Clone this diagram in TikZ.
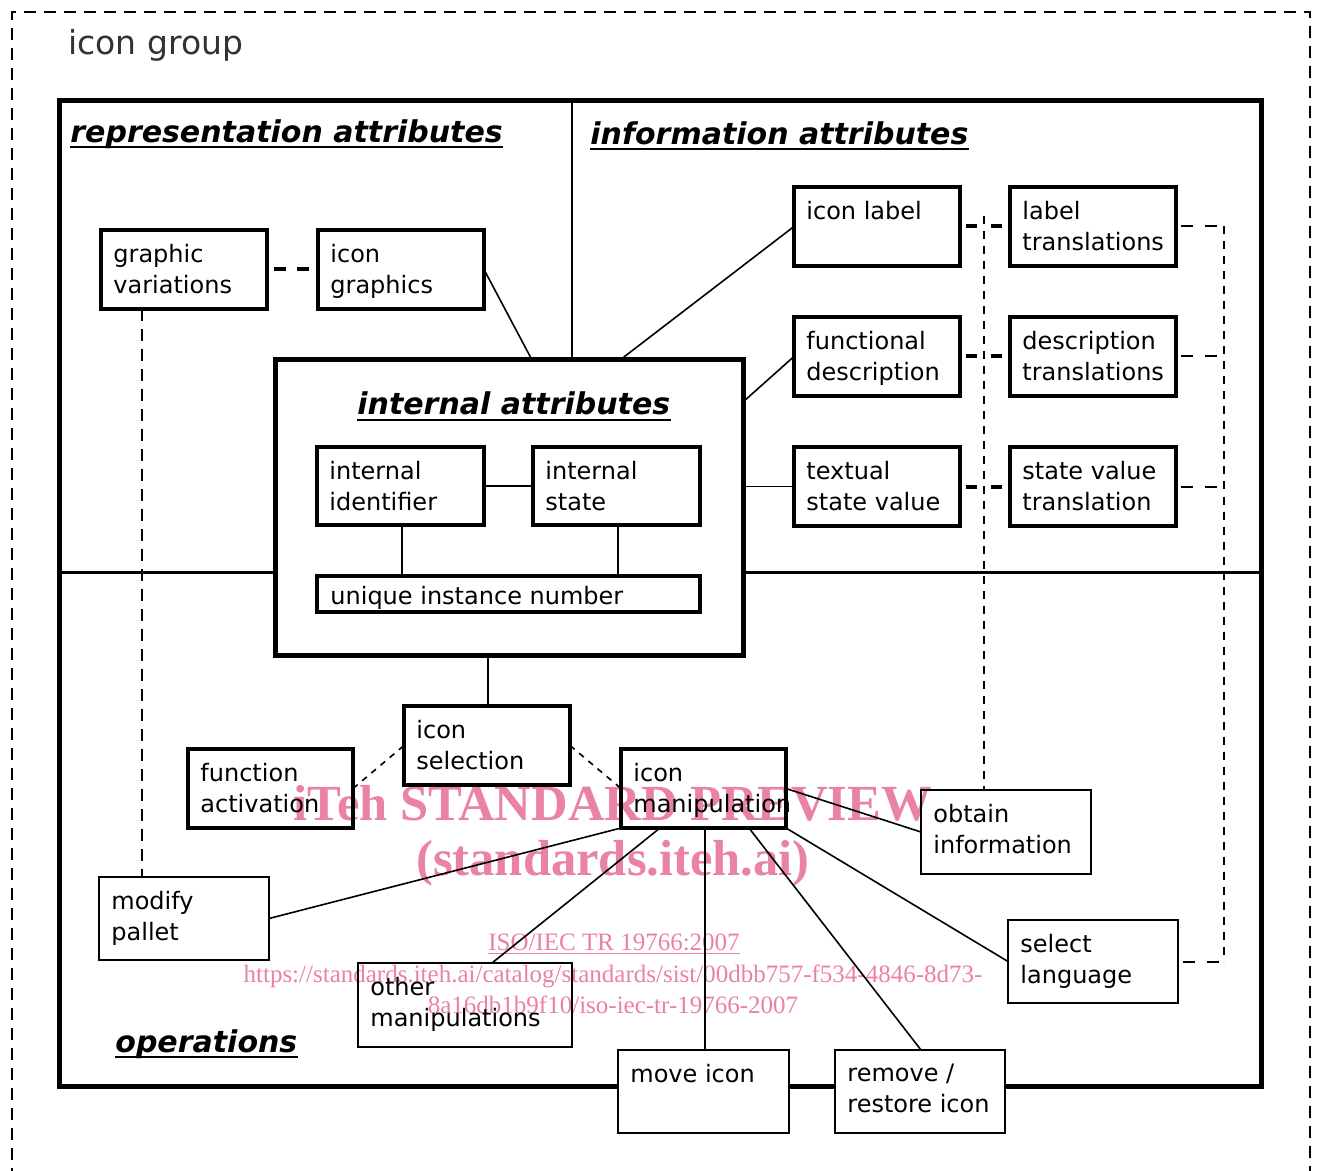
\documentclass[tikz,border=0pt]{standalone}
\usepackage{fontspec}
\setmainfont{DejaVu Sans}
\newfontfamily\wmfont{Liberation Serif}
\definecolor{wmc}{RGB}{234,130,162}
\newcommand\bodyfont{\fontsize{12pt}{15.5pt}\selectfont}
\newcommand\mkbox[7]{\node[#1, minimum width={(#5-#3)*0.5pt}, minimum height={(#6-#4)*0.5pt}, label={[lab]north west:{#7}}] (#2) at ({(#3+#5)/2},{(#4+#6)/2}) {};}
\begin{document}
\begin{tikzpicture}[x=0.5pt,y=-0.5pt,
  lab/.style={anchor=north west, align=left, inner xsep=6pt, inner ysep=7pt, font=\bodyfont},
  thickbox/.style={draw, line width=2pt, fill=white, inner sep=0pt, outer sep=0pt},
  thinbox/.style={draw, line width=1pt, fill=white, inner sep=0pt, outer sep=0pt},
  bigbox/.style={draw, line width=2.5pt, fill=white, inner sep=0pt, outer sep=0pt},
  conn/.style={line width=0.8pt},
  hd/.style={font=\fontsize{15pt}{18pt}\selectfont\bfseries\itshape, inner sep=0pt, anchor=base west},
  uline/.style={line width=1pt},
  outerdash/.style={line width=1pt, dash pattern=on 6pt off 4pt},
  pairdash/.style={line width=2pt, dash pattern=on 5.5pt off 7pt, dash phase=9.5pt},
  gvdash/.style={line width=2pt, dash pattern=on 6.2pt off 5.4pt, dash phase=8.3pt},
  stubdash/.style={line width=1pt, dash pattern=on 6pt off 6pt, dash phase=9.5pt},
  vdash/.style={line width=1pt, dash pattern=on 4pt off 3.5pt},
  ldash/.style={line width=1.4pt, dash pattern=on 6pt off 4pt},
  sdash/.style={line width=0.8pt, dash pattern=on 3pt off 3pt},
  wm/.style={text=wmc, inner sep=0pt, anchor=base}]
\useasboundingbox (0,0) rectangle (1317,1171);
\fill[white] (0,0) rectangle (1317,1171);

% outer dashed group frame
\draw[outerdash] (12,1180) -- (12,12) -- (1310,12) -- (1310,1180);
\node[anchor=base west, inner sep=0pt, text=black!80, font=\fontsize{16.5pt}{20pt}\selectfont] (title) at (68,55) {icon group};

% main box
\node[bigbox, minimum width={1202*0.5pt}, minimum height={985*0.5pt}] (main) at (660,593.5) {};
% internal attributes box
\node[bigbox, minimum width={468*0.5pt}, minimum height={295*0.5pt}] (ia) at (509,507.5) {};

% region dividers
\draw[line width=1pt] (main.north -| 572,0) -- (ia.north -| 572,0);
\draw[line width=1.5pt] (main.west |- 0,572) -- (ia.west |- 0,572);
\draw[line width=1.5pt] (ia.east |- 0,572) -- (main.east |- 0,572);

% headings
\node[hd] (h1) at (70,143) {representation attributes};
\draw[uline] ([yshift=-2pt]h1.base west) -- ([yshift=-2pt]h1.base east);
\node[hd] (h2) at (590,145) {information attributes};
\draw[uline] ([yshift=-2pt]h2.base west) -- ([yshift=-2pt]h2.base east);
\node[hd] (h3) at (357,415) {internal attributes};
\draw[uline] ([yshift=-2.5pt]h3.base west) -- ([yshift=-2.5pt]h3.base east);
\node[hd] (h4) at (115,1052) {operations};
\draw[uline] ([yshift=-2.5pt]h4.base west) -- ([yshift=-2.5pt]h4.base east);

% boxes
\mkbox{thickbox}{gv}{101}{230}{267}{309}{graphic\\variations}
\mkbox{thickbox}{ig}{318}{230}{484}{309}{icon\\graphics}
\mkbox{thickbox}{il}{794}{187}{960}{266}{icon label}
\mkbox{thickbox}{lt}{1010}{187}{1176}{266}{label\\translations}
\mkbox{thickbox}{fd}{794}{317}{960}{396}{functional\\description}
\mkbox{thickbox}{dt}{1010}{317}{1176}{396}{description\\translations}
\mkbox{thickbox}{ts}{794}{447}{960}{526}{textual\\state value}
\mkbox{thickbox}{sv}{1010}{447}{1176}{526}{state value\\translation}
\mkbox{thickbox}{iid}{317}{447}{484}{525}{internal\\identifier}
\mkbox{thickbox}{ist}{533}{447}{700}{525}{internal\\state}
\node[thickbox, minimum width={383*0.5pt}, minimum height={36*0.5pt}] (uin) at (508.5,594) {};
\node[anchor=base west, inner sep=0pt, font=\bodyfont] (uint) at (330,604) {unique instance number};
\mkbox{thickbox}{isel}{404}{706}{570}{785}{icon\\selection}
\mkbox{thickbox}{fa}{188}{749}{353}{828}{function\\activation}
\mkbox{thickbox}{im}{621}{749}{786}{828}{icon\\manipulation}
\mkbox{thinbox}{oi}{921}{790}{1091}{874}{obtain\\information}
\mkbox{thinbox}{mp}{99}{877}{269}{960}{modify\\pallet}
\mkbox{thinbox}{om}{358}{963}{572}{1047}{other\\manipulations}
\mkbox{thinbox}{mi}{618}{1050}{789}{1133}{move icon}
\mkbox{thinbox}{rr}{835}{1050}{1005}{1133}{remove /\\restore icon}
\mkbox{thinbox}{sl}{1008}{920}{1178}{1003}{select\\language}

% solid connectors
\draw[conn] (ig.east) -- (ia.north -| 532,0);
\draw[conn] (ia.north -| 620,0) -- (il.west);
\draw[conn] (ia.east |- 0,402) -- (fd.west);
\draw[conn] (ia.east |- ts.west) -- (ts.west);
\draw[conn] (iid.east) -- (ist.west);
\draw[conn] (iid.south -| 402,0) -- (uin.north -| 402,0);
\draw[conn] (ist.south -| 618,0) -- (uin.north -| 618,0);
\draw[conn] (ia.south -| 488,0) -- (isel.north -| 488,0);
\draw[conn] (im.east) -- (oi.west);
\draw[conn] (im.south west) -- (mp.east);
\draw[conn] (im.south -| 660,0) -- (om.north -| 492,0);
\draw[conn] (im.south -| 705,0) -- (mi.north -| 705,0);
\draw[conn] (im.south -| 749,0) -- (rr.north -| 921,0);
\draw[conn] (im.south east) -- (sl.west);

% dashed connectors
\draw[gvdash] (gv.east) -- (ig.west);
\draw[pairdash] (il.east) -- (lt.west);
\draw[pairdash] (fd.east) -- (dt.west);
\draw[pairdash] (ts.east) -- (sv.west);
\coordinate (vtop) at (984,216);
\draw[vdash] (vtop) -- (oi.north -| 984,0);
\draw[stubdash] (lt.east) -- (lt.east -| 1224,0);
\draw[stubdash] (dt.east) -- (dt.east -| 1224,0);
\draw[stubdash] (sv.east) -- (sv.east -| 1224,0);
\draw[stubdash] (sl.east) -- (sl.east -| 1224,0);
\draw[vdash] (lt.east -| 1224,0) -- (sl.east -| 1224,0);
\draw[ldash] (gv.south -| 142,0) -- (mp.north -| 142,0);
\draw[sdash] (fa.east) -- (isel.west);
\draw[sdash] (isel.east) -- (im.west);

% watermark
\begin{scope}[blend mode=multiply]
\node[wm, font=\wmfont\bfseries\fontsize{25.3pt}{30pt}\selectfont] (w1) at (613,820) {iTeh STANDARD PREVIEW};
\node[wm, font=\wmfont\bfseries\fontsize{25.3pt}{30pt}\selectfont] (w2) at (613,875) {(standards.iteh.ai)};
\node[wm, font=\wmfont\fontsize{12.5pt}{15pt}\selectfont] (w3) at (614,950) {\underline{ISO/IEC TR 19766:2007}};
\node[wm, font=\wmfont\fontsize{12.5pt}{15pt}\selectfont] (w4) at (613,982) {https://standards.iteh.ai/catalog/standards/sist/00dbb757-f534-4846-8d73-};
\node[wm, font=\wmfont\fontsize{12.5pt}{15pt}\selectfont] (w5) at (613,1013) {8a16db1b9f10/iso-iec-tr-19766-2007};
\end{scope}
\end{tikzpicture}
\end{document}
